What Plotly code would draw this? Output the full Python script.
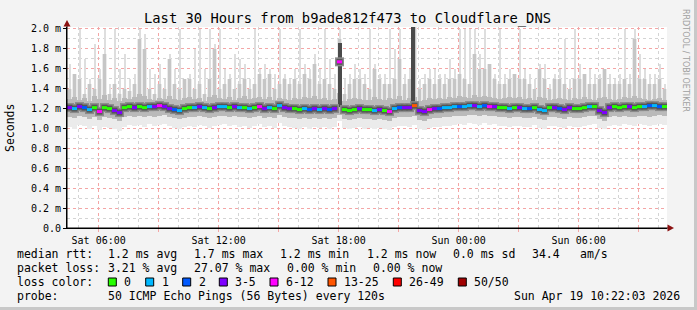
import plotly.graph_objects as go
import pandas as pd

# ---------------- data (values in milliseconds) ----------------
times = pd.date_range("2026-04-18 04:32:30", periods=120, freq="15min")

median = [1.21,1.20,1.22,1.21,1.19,1.21,1.17,1.21,1.20,1.18,
          1.16,1.21,1.22,1.21,1.22,1.21,1.22,1.22,1.23,1.22,
          1.20,1.19,1.18,1.20,1.21,1.21,1.22,1.21,1.20,1.21,
          1.22,1.22,1.21,1.22,1.21,1.21,1.20,1.21,1.22,1.20,
          1.21,1.20,1.23,1.21,1.20,1.20,1.19,1.20,1.19,1.20,
          1.19,1.20,1.19,1.20,1.67,1.19,1.18,1.19,1.20,1.19,
          1.19,1.18,1.19,1.18,1.17,1.20,1.21,1.21,1.21,1.23,
          1.18,1.17,1.19,1.20,1.20,1.21,1.21,1.22,1.22,1.22,
          1.23,1.23,1.22,1.23,1.22,1.22,1.21,1.21,1.20,1.21,
          1.21,1.20,1.20,1.21,1.19,1.18,1.21,1.21,1.20,1.19,
          1.21,1.20,1.20,1.21,1.22,1.22,1.18,1.16,1.21,1.22,
          1.21,1.22,1.22,1.21,1.22,1.22,1.23,1.23,1.22,1.22]

loss = [3,1,4,2,1,0,7,0,0,3,4,0,0,3,0,0,1,3,6,3,
        3,2,1,0,0,1,3,1,0,3,1,1,0,4,1,0,1,0,6,3,
        1,0,1,3,4,0,0,1,2,3,1,3,2,3,8,0,0,0,3,0,
        0,1,3,0,6,1,2,3,4,15,3,4,6,3,2,1,1,1,2,1,
        1,3,1,2,6,3,0,0,1,0,3,1,2,0,1,1,0,3,2,3,
        3,0,0,0,1,0,3,4,3,0,0,0,3,0,0,1,2,1,2,0]

ping_max = [1.65,1.55,2.0,1.7,1.5,1.85,1.6,2.0,1.45,2.0,
            1.6,1.75,1.5,1.55,2.0,1.95,1.6,1.55,1.65,1.5,
            1.75,1.6,2.0,1.5,1.55,1.8,2.0,1.6,2.0,1.85,
            2.0,1.6,1.55,1.75,1.7,1.65,1.5,2.0,1.6,1.65,
            1.6,1.55,2.0,1.55,1.5,1.6,2.0,1.65,1.6,1.75,
            1.6,2.0,1.7,1.55,2.0,1.5,1.55,1.65,1.6,1.55,
            2.0,1.65,1.55,1.55,2.0,1.8,2.0,1.55,1.6,2.05,
            1.5,1.55,1.6,1.6,1.55,1.55,1.7,1.6,2.0,2.0,
            2.0,2.0,1.75,2.0,1.6,1.55,2.0,1.55,1.6,1.55,
            2.0,1.6,1.55,1.5,1.65,1.65,1.45,1.55,1.6,1.9,
            1.5,2.0,1.65,1.55,1.6,1.55,1.55,1.6,1.55,1.5,
            1.55,2.0,1.55,2.0,1.75,1.6,1.55,1.55,1.65,1.45]

p90 = [1.4,1.55,1.5,1.35,1.45,1.4,1.5,1.75,1.35,1.45,
       1.35,1.4,1.38,1.45,1.9,1.8,1.4,1.35,1.45,1.4,
       1.7,1.45,1.4,1.5,1.5,1.4,1.45,1.35,1.5,1.8,
       1.4,1.45,1.5,1.4,1.45,1.5,1.4,1.45,1.55,1.5,
       1.55,1.4,1.45,1.5,1.45,1.5,1.45,1.55,1.5,1.65,
       1.45,1.5,1.45,1.4,1.9,1.35,1.45,1.5,1.5,1.45,
       1.4,1.6,1.5,1.45,1.45,1.5,1.7,1.45,1.5,2.05,
       1.4,1.45,1.5,1.45,1.5,1.45,1.5,1.5,1.55,1.5,
       1.45,1.75,1.6,1.6,1.65,1.5,1.45,1.45,1.5,1.55,
       1.5,1.5,1.45,1.4,1.6,1.5,1.4,1.5,1.5,1.45,
       1.4,1.5,1.5,1.55,1.45,1.45,1.5,1.6,1.45,1.45,
       1.45,1.5,1.45,1.9,1.5,1.5,1.45,1.45,1.5,1.4]

q3 = [1.30,1.32,1.29,1.31,1.28,1.33,1.30,1.34,1.29,1.31,
      1.28,1.31,1.30,1.32,1.35,1.33,1.30,1.29,1.31,1.30,
      1.33,1.30,1.29,1.31,1.32,1.30,1.31,1.28,1.32,1.34,
      1.31,1.30,1.32,1.29,1.31,1.33,1.30,1.31,1.32,1.30,
      1.32,1.29,1.31,1.30,1.29,1.31,1.30,1.32,1.31,1.33,
      1.30,1.31,1.29,1.30,1.36,1.28,1.30,1.31,1.30,1.29,
      1.29,1.32,1.30,1.29,1.31,1.30,1.33,1.29,1.31,1.32,
      1.28,1.29,1.31,1.30,1.31,1.30,1.32,1.31,1.33,1.32,
      1.31,1.34,1.32,1.33,1.32,1.31,1.30,1.31,1.32,1.31,
      1.32,1.30,1.31,1.29,1.32,1.31,1.29,1.30,1.31,1.30,
      1.29,1.31,1.30,1.32,1.30,1.29,1.31,1.32,1.30,1.29,
      1.30,1.32,1.31,1.33,1.31,1.30,1.29,1.30,1.31,1.29]

q1 = [1.12,1.11,1.13,1.12,1.10,1.12,1.09,1.12,1.11,1.10,
      1.08,1.12,1.13,1.12,1.13,1.12,1.13,1.12,1.13,1.14,
      1.12,1.11,1.10,1.11,1.12,1.12,1.13,1.12,1.11,1.12,
      1.13,1.13,1.12,1.13,1.12,1.12,1.11,1.12,1.13,1.11,
      1.12,1.11,1.14,1.12,1.11,1.11,1.10,1.11,1.10,1.11,
      1.10,1.11,1.10,1.11,1.14,1.10,1.09,1.10,1.11,1.10,
      1.10,1.09,1.10,1.09,1.08,1.11,1.12,1.12,1.12,1.13,
      1.09,1.08,1.10,1.11,1.11,1.12,1.12,1.13,1.13,1.13,
      1.14,1.14,1.13,1.14,1.13,1.13,1.12,1.12,1.11,1.12,
      1.12,1.11,1.11,1.12,1.10,1.09,1.12,1.12,1.11,1.10,
      1.12,1.11,1.11,1.12,1.13,1.13,1.10,1.08,1.12,1.13,
      1.12,1.13,1.12,1.12,1.13,1.13,1.12,1.13,1.14,1.13]

ping_min = [1.02,1.00,1.04,1.03,0.99,1.03,0.98,1.02,1.01,0.99,
            0.97,1.02,1.04,1.03,1.04,1.02,1.05,1.03,1.04,1.05,
            1.03,1.01,0.99,1.02,1.03,1.02,1.04,1.03,1.01,1.03,
            1.04,1.05,1.03,1.04,1.02,1.03,1.01,1.03,1.05,1.02,
            1.03,1.01,1.06,1.03,1.02,1.01,1.00,1.02,1.00,1.02,
            1.01,1.02,1.00,1.02,1.08,1.01,0.99,1.01,1.02,1.00,
            1.01,0.99,1.01,0.99,0.98,1.02,1.03,1.03,1.02,1.04,
            0.99,0.98,1.01,1.02,1.02,1.03,1.03,1.04,1.05,1.04,
            1.06,1.05,1.04,1.06,1.04,1.05,1.03,1.03,1.02,1.03,
            1.03,1.02,1.02,1.04,1.01,1.00,1.03,1.03,1.02,1.01,
            1.03,1.02,1.02,1.03,1.04,1.05,1.01,0.99,1.03,1.04,
            1.03,1.05,1.04,1.03,1.05,1.04,1.03,1.04,1.05,1.04]

# two heavy outlier events (dark columns)
dark_time = ["2026-04-18 18:03", "2026-04-18 21:43"]
dark_base = [1.22, 1.22]
dark_top = [1.86, 2.10]

y_ticks = [0.0, 0.2, 0.4, 0.6, 0.8, 1.0, 1.2, 1.4, 1.6, 1.8, 2.0]
y_labels = ["0.0", "0.2 m", "0.4 m", "0.6 m", "0.8 m", "1.0 m", "1.2 m",
            "1.4 m", "1.6 m", "1.8 m", "2.0 m"]
x_ticks = pd.date_range("2026-04-18 06:00", "2026-04-19 09:00", freq="3h")
x_labels = ["Sat 06:00", "", "Sat 12:00", "", "Sat 18:00", "", "Sun 00:00", "",
            "Sun 06:00", ""]

loss_bins = [(0, "#26ff00", "0"), (1, "#00b8ff", "1"), (2, "#0059ff", "2"),
             (5, "#7e00ff", "3-5"), (12, "#ff00ff", "6-12"), (25, "#ff5500", "13-25"),
             (49, "#ff0000", "26-49"), (50, "#a10000", "50/50")]

# ---------------- figure ----------------
W, H = 697, 310
ML, MR, MT, MB = 67, 30, 27, 82
PW, PH = W - ML - MR, H - MT - MB
FONT = "DejaVu Sans Mono"
SLOT = 15 * 60 * 1000


def px(x):
    return (x - ML) / PW


def py(y):
    return (H - MB - y) / PH


def diff(a, b):
    return [u - v for u, v in zip(a, b)]


fig = go.Figure()
# light haze min -> p90
fig.add_trace(go.Bar(x=times, base=ping_min, y=diff(p90, ping_min), width=SLOT,
                     marker=dict(color="#ebebeb", line=dict(width=0)), hoverinfo="skip"))
# light spikes p90 -> max
fig.add_trace(go.Bar(x=times, base=p90, y=diff(ping_max, p90), width=SLOT * 0.4,
                     marker=dict(color="#dedede", line=dict(width=0)), hoverinfo="skip"))
# medium spikes q3 -> p90
fig.add_trace(go.Bar(x=times, base=q3, y=diff(p90, q3), width=SLOT * 0.5,
                     marker=dict(color="#c6c6c6", line=dict(width=0)), hoverinfo="skip"))
# core q1 -> q3
fig.add_trace(go.Bar(x=times, base=q1, y=diff(q3, q1), width=SLOT,
                     marker=dict(color="#bababa", line=dict(width=0)), hoverinfo="skip"))
# dark events
fig.add_trace(go.Bar(x=pd.to_datetime(dark_time), base=dark_base, y=diff(dark_top, dark_base),
                     width=SLOT * 0.8, marker=dict(color="#4a4a4a", line=dict(width=0)),
                     hoverinfo="skip"))
# dark smoke core around the median
fig.add_trace(go.Scatter(x=times, y=median, mode="markers",
                         marker=dict(symbol="square", size=9, color="#8a8a8a", line=dict(width=0)),
                         hoverinfo="skip"))
fig.add_trace(go.Scatter(x=times, y=median, mode="markers",
                         marker=dict(symbol="square", size=6, color="#555555", line=dict(width=0)),
                         hoverinfo="skip"))


def bucket(n):
    for lim, col, _ in loss_bins:
        if n <= lim:
            return col
    return loss_bins[-1][1]


half = pd.Timedelta(minutes=7.5)
for lim, col, lab in loss_bins:
    xs, ys = [], []
    for t, m, l in zip(times, median, loss):
        if bucket(l) == col:
            xs += [t - half, t + half, None]
            ys += [m, m, None]
    if xs:
        fig.add_trace(go.Scatter(x=xs, y=ys, mode="lines", line=dict(color=col, width=3),
                                 hoverinfo="skip"))

fig.update_layout(
    width=W, height=H, margin=dict(l=ML, r=MR, t=MT, b=MB, pad=0),
    paper_bgcolor="#f3f3f3", plot_bgcolor="#ffffff",
    barmode="overlay", bargap=0, showlegend=False,
    font=dict(family=FONT, size=10, color="#000000"),
)
fig.update_xaxes(
    type="date", range=["2026-04-18 04:25", "2026-04-19 10:25"],
    tickmode="array", tickvals=x_ticks, ticktext=x_labels,
    showgrid=True, gridcolor="#f4a6a6", griddash="dot", gridwidth=1,
    minor=dict(dtick=3600000, tick0="2026-04-18 00:00", showgrid=True,
               gridcolor="#d4d4d4", griddash="dot", gridwidth=1),
    showline=True, linecolor="#000000", linewidth=1,
    ticks="outside", ticklen=3, tickcolor="#f4a6a6",
    tickfont=dict(family=FONT, size=10), zeroline=False, fixedrange=True,
)
fig.update_yaxes(
    range=[0, 2.02], tickmode="array", tickvals=y_ticks, ticktext=y_labels,
    showgrid=True, gridcolor="#f4a6a6", griddash="dot", gridwidth=1,
    minor=dict(dtick=0.1, tick0=0, showgrid=True, gridcolor="#d4d4d4",
               griddash="dot", gridwidth=1),
    showline=True, linecolor="#000000", linewidth=1,
    ticks="outside", ticklen=3, tickcolor="#000000",
    tickfont=dict(family=FONT, size=10), zeroline=False, fixedrange=True,
)

shapes = []
# arrows
shapes.append(dict(type="line", xref="paper", yref="paper", x0=px(67), x1=px(67), y0=py(228), y1=py(22),
                   line=dict(color="#000000", width=1)))
shapes.append(dict(type="path", xref="paper", yref="paper",
                   path=f"M {px(63.5)} {py(26.5)} L {px(70.5)} {py(26.5)} L {px(67)} {py(20)} Z",
                   fillcolor="#8b1111", line=dict(width=0)))
shapes.append(dict(type="line", xref="paper", yref="paper", x0=px(67), x1=px(670), y0=py(228), y1=py(228),
                   line=dict(color="#000000", width=1)))
shapes.append(dict(type="path", xref="paper", yref="paper",
                   path=f"M {px(667.5)} {py(224.5)} L {px(667.5)} {py(231.5)} L {px(674)} {py(228)} Z",
                   fillcolor="#8b1111", line=dict(width=0)))
# frame
shapes.append(dict(type="line", xref="paper", yref="paper", x0=px(695.5), x1=px(695.5), y0=py(0), y1=py(310),
                   line=dict(color="#c8c8c8", width=3)))
shapes.append(dict(type="line", xref="paper", yref="paper", x0=px(0), x1=px(697), y0=py(308.5), y1=py(308.5),
                   line=dict(color="#c8c8c8", width=3)))

annotations = []


def text(x, y, s, size=11.5, anchor="left", color="#000000", angle=0, family=FONT):
    annotations.append(dict(xref="paper", yref="paper", x=px(x), y=py(y), text=s, showarrow=False,
                            xanchor=anchor, yanchor="middle", borderpad=0, textangle=angle,
                            font=dict(family=family, size=size, color=color)))


text(347.5, 19, "Last 30 Hours from b9ade812f473 to Cloudflare_DNS", size=13.8, anchor="center")
text(10, 128, "Seconds", size=11.5, anchor="center", angle=-90)
text(686, 60, "RRDTOOL / TOBI OETIKER", size=8, anchor="center", angle=90, color="#a0a0a0",
     family="DejaVu Sans")

row1 = [(16, "median rtt:"), (107.3, "1.2 ms avg"), (193.3, "1.7 ms max"), (279.3, "1.2 ms min"),
        (366, "1.2 ms now"), (451.7, "0.0 ms sd"), (530.7, "34.4"), (579.3, "am/s")]
row2 = [(16, "packet loss:"), (107.3, "3.21 % avg"), (193.3, "27.07 % max"), (286, "0.00 % min"),
        (372.3, "0.00 % now")]
row4 = [(16, "probe:"), (107.3, "50 ICMP Echo Pings (56 Bytes) every 120s"),
        (513.3, "Sun Apr 19 10:22:03 2026")]
for x, s in row1:
    text(x, 254, s)
for x, s in row2:
    text(x, 268, s)
for x, s in row4:
    text(x, 296, s)
text(16, 282, "loss color:")
box_x = [108.3, 145.7, 182.7, 219.3, 270, 328, 393.3, 458.3]
for bx, (lim, col, lab) in zip(box_x, loss_bins):
    shapes.append(dict(type="rect", xref="paper", yref="paper", x0=px(bx), x1=px(bx + 8),
                       y0=py(286), y1=py(278), fillcolor=col, line=dict(color="#000000", width=1)))
    text(bx + 15, 282, lab)

fig.update_layout(shapes=shapes, annotations=annotations)
fig.write_html("out.html")
